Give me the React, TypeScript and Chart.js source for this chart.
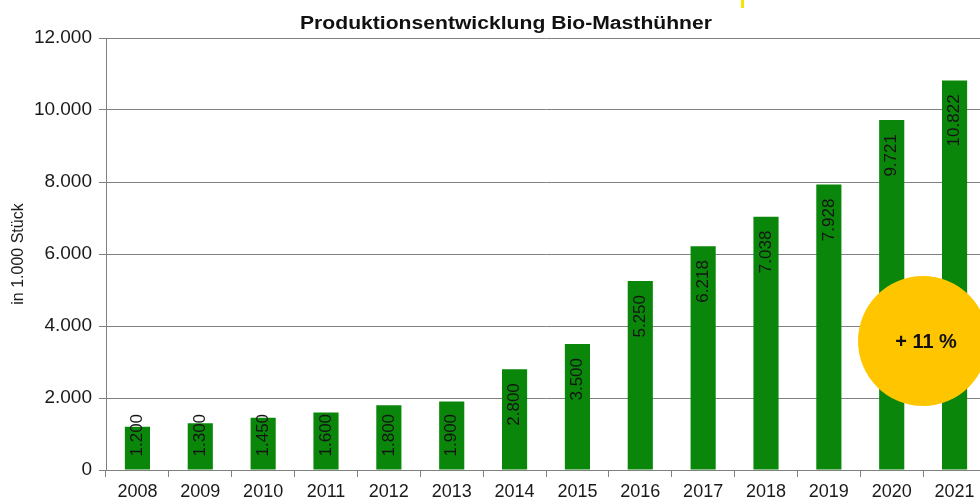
import React, { useEffect, useRef } from "react";
import { Chart, registerables } from "chart.js";

Chart.register(...registerables);

const years = ["2008", "2009", "2010", "2011", "2012", "2013", "2014", "2015", "2016", "2017", "2018", "2019", "2020", "2021"];
const production = [1200, 1300, 1450, 1600, 1800, 1900, 2800, 3500, 5250, 6218, 7038, 7928, 9721, 10822];
const chartTitle = "Produktionsentwicklung Bio-Masthühner";
const yAxisTitle = "in 1.000 Stück";
const badgeText = "+ 11 %";

const fmt = (v: number) => v.toLocaleString("de-DE");
const FONT = "'Liberation Sans', Arial, sans-serif";

const overlayPlugin = {
  id: "overlay",
  afterDatasetsDraw(chart: any) {
    const ctx = chart.ctx;
    const meta = chart.getDatasetMeta(0);
    ctx.save();
    ctx.font = `17px ${FONT}`;
    ctx.fillStyle = "#141414";
    ctx.textBaseline = "middle";
    ctx.textAlign = "right";
    meta.data.forEach((bar: any, i: number) => {
      const label = fmt(production[i]);
      const w = ctx.measureText(label).width;
      let top = bar.y + 14;
      if (top + w > bar.base - 13) top = bar.base - 13 - w;
      ctx.save();
      ctx.translate(bar.x, top);
      ctx.rotate(-Math.PI / 2);
      ctx.fillText(label, 0, 0);
      ctx.restore();
    });
    ctx.restore();
  },
  afterDraw(chart: any) {
    const ctx = chart.ctx;
    ctx.save();
    // title
    ctx.font = `bold 18px ${FONT}`;
    ctx.fillStyle = "#111";
    ctx.textAlign = "center";
    ctx.textBaseline = "middle";
    const tw = ctx.measureText(chartTitle).width;
    const sx = 412 / tw;
    ctx.save();
    ctx.translate(506, 24);
    ctx.scale(sx, 1);
    ctx.fillText(chartTitle, 0, 0);
    ctx.restore();
    // small yellow mark
    ctx.fillStyle = "#f2e600";
    ctx.fillRect(741, 0, 3, 8);
    // badge
    ctx.beginPath();
    ctx.arc(923, 341, 65, 0, Math.PI * 2);
    ctx.fillStyle = "#FFC600";
    ctx.fill();
    ctx.font = `bold 20px ${FONT}`;
    ctx.fillStyle = "#111";
    ctx.fillText(badgeText, 926, 342);
    ctx.restore();
  },
};

export default function App() {
  const ref = useRef<HTMLCanvasElement | null>(null);
  useEffect(() => {
    if (!ref.current) return;
    const chart = new Chart(ref.current, {
      type: "bar",
      data: {
        labels: years,
        datasets: [
          {
            data: production,
            backgroundColor: "#0a870a",
            borderWidth: 0,
            barPercentage: 0.4,
            categoryPercentage: 1,
          },
        ],
      },
      options: {
        animation: false,
        responsive: false,
        devicePixelRatio: 1,
        layout: { padding: { top: 38, right: 4, left: 0, bottom: 0 } },
        plugins: { legend: { display: false }, title: { display: false }, tooltip: { enabled: false } },
        scales: {
          x: {
            afterFit: (s: any) => {
              s.height = 33;
            },
            grid: { drawOnChartArea: false, tickLength: 7, color: "#808080", offset: true },
            border: { color: "#808080" },
            ticks: { color: "#1a1a1a", font: { size: 18, family: FONT }, padding: 4, maxRotation: 0 },
          },
          y: {
            min: 0,
            max: 12000,
            afterFit: (s: any) => {
              s.width = 106;
            },
            grid: { color: "#808080", tickLength: 7 },
            border: { color: "#808080" },
            ticks: {
              stepSize: 2000,
              color: "#1a1a1a",
              font: { size: 19, family: FONT },
              padding: 7,
              callback: (v: any) => fmt(Number(v)),
            },
            title: {
              display: true,
              text: yAxisTitle,
              color: "#1a1a1a",
              font: { size: 16, family: FONT },
              padding: { top: 9, bottom: 0 },
            },
          },
        },
      },
      plugins: [overlayPlugin],
    });
    return () => chart.destroy();
  }, []);
  return (
    <div style={{ position: "fixed", left: 0, top: 0, width: 980, height: 503, overflow: "hidden", background: "#fff" }}>
      <canvas ref={ref} width={990} height={503} style={{ display: "block", width: 990, height: 503 }} />
    </div>
  );
}
